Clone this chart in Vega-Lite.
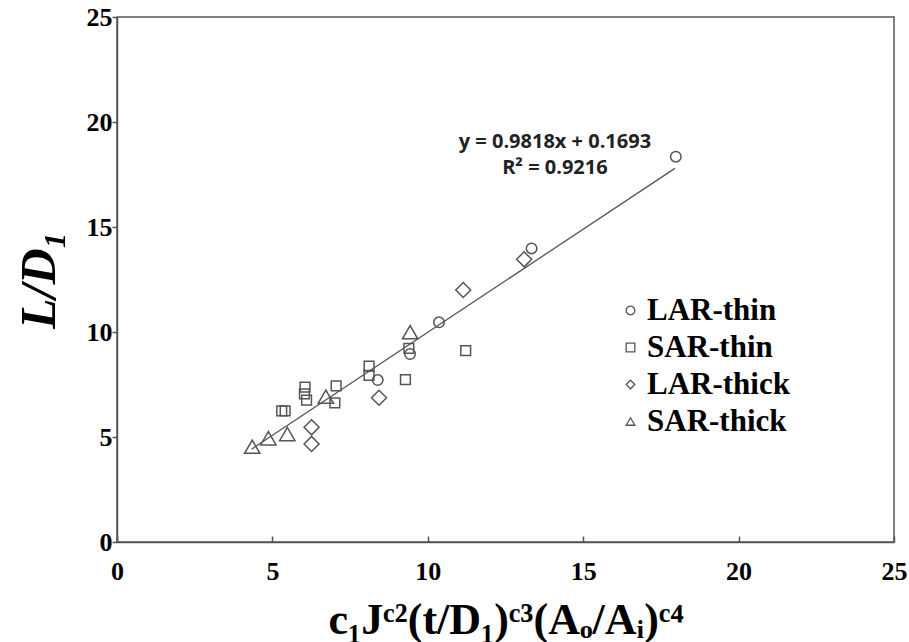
{
  "$schema": "https://vega.github.io/schema/vega-lite/v6.json",
  "width": 777,
  "height": 525,
  "autosize": "none",
  "padding": {"left": 117, "top": 17, "right": 15, "bottom": 100},
  "background": "white",
  "config": {
    "view": {"stroke": "#555555", "strokeWidth": 1.5},
    "axis": {"grid": false}
  },
  "datasets": {
    "pts": [
      {"series": "LAR-thin", "x": 8.39, "y": 7.71},
      {"series": "LAR-thin", "x": 9.43, "y": 8.95},
      {"series": "LAR-thin", "x": 10.36, "y": 10.46},
      {"series": "LAR-thin", "x": 13.34, "y": 13.98},
      {"series": "LAR-thin", "x": 17.98, "y": 18.35},
      {"series": "SAR-thin", "x": 5.3, "y": 6.24},
      {"series": "SAR-thin", "x": 5.41, "y": 6.24},
      {"series": "SAR-thin", "x": 6.05, "y": 7.37},
      {"series": "SAR-thin", "x": 6.03, "y": 7.05},
      {"series": "SAR-thin", "x": 6.1, "y": 6.76},
      {"series": "SAR-thin", "x": 7.05, "y": 7.43},
      {"series": "SAR-thin", "x": 7.01, "y": 6.63},
      {"series": "SAR-thin", "x": 8.11, "y": 8.38},
      {"series": "SAR-thin", "x": 8.11, "y": 7.94},
      {"series": "SAR-thin", "x": 9.28, "y": 7.73},
      {"series": "SAR-thin", "x": 9.39, "y": 9.22},
      {"series": "SAR-thin", "x": 11.22, "y": 9.11},
      {"series": "LAR-thick", "x": 6.26, "y": 5.46},
      {"series": "LAR-thick", "x": 6.26, "y": 4.67},
      {"series": "LAR-thick", "x": 8.43, "y": 6.87},
      {"series": "LAR-thick", "x": 11.14, "y": 12.0},
      {"series": "LAR-thick", "x": 13.1, "y": 13.46},
      {"series": "SAR-thick", "x": 4.35, "y": 4.54},
      {"series": "SAR-thick", "x": 4.87, "y": 4.94},
      {"series": "SAR-thick", "x": 5.48, "y": 5.14},
      {"series": "SAR-thick", "x": 6.72, "y": 6.92},
      {"series": "SAR-thick", "x": 9.43, "y": 9.99}
    ],
    "fit": [
      {"x": 4.33, "y": 4.42},
      {"x": 17.95, "y": 17.79}
    ],
    "note": [
      {"label": "fit"}
    ]
  },
  "resolve": {"legend": {"shape": "independent", "size": "independent"}},
  "layer": [
    {
      "data": {"name": "fit"},
      "mark": {"type": "line", "color": "#555555", "strokeWidth": 1.3},
      "encoding": {
        "x": {"field": "x", "type": "quantitative"},
        "y": {"field": "y", "type": "quantitative"}
      }
    },
    {
      "data": {"name": "pts"},
      "mark": {"type": "point", "filled": false, "color": "#555555", "strokeWidth": 1.5, "opacity": 1},
      "encoding": {
        "x": {
          "field": "x", "type": "quantitative",
          "scale": {"domain": [0, 25], "nice": false, "zero": false},
          "axis": {
            "values": [0, 5, 10, 15, 20, 25],
            "title": "c₁Jᶜ²(t/D₁)ᶜ³(Aₒ/Aᵢ)ᶜ⁴",
            "titleFont": "Liberation Serif",
            "titleFontSize": 44,
            "titleFontWeight": "bold",
            "titleColor": "#000000",
            "titlePadding": 14,
            "labelFont": "Liberation Serif",
            "labelFontSize": 26,
            "labelFontWeight": "bold",
            "labelColor": "#000000",
            "labelPadding": 22,
            "labelFlush": false,
            "tickSize": -6,
            "tickColor": "#555555",
            "tickWidth": 1.5,
            "domainColor": "#555555",
            "domainWidth": 1.5
          }
        },
        "y": {
          "field": "y", "type": "quantitative",
          "scale": {"domain": [0, 25], "nice": false, "zero": false},
          "axis": {
            "values": [0, 5, 10, 15, 20, 25],
            "title": "L/D₁",
            "titleFont": "Liberation Serif",
            "titleFontSize": 50,
            "titleFontWeight": "bold",
            "titleFontStyle": "italic",
            "titleColor": "#000000",
            "titlePadding": 22,
            "labelFont": "Liberation Serif",
            "labelFontSize": 26,
            "labelFontWeight": "bold",
            "labelColor": "#000000",
            "labelPadding": 0,
            "labelFlush": false,
            "tickSize": 5,
            "tickColor": "#555555",
            "tickWidth": 1.5,
            "domainColor": "#555555",
            "domainWidth": 1.5
          }
        },
        "shape": {
          "field": "series", "type": "nominal",
          "scale": {
            "domain": ["LAR-thin", "SAR-thin", "LAR-thick", "SAR-thick"],
            "range": ["circle", "square", "diamond", "triangle-up"]
          },
          "legend": null
        },
        "size": {
          "field": "series", "type": "ordinal",
          "scale": {
            "type": "ordinal",
            "domain": ["LAR-thin", "SAR-thin", "LAR-thick", "SAR-thick"],
            "range": [110, 95, 225, 235]
          },
          "legend": null
        }
      }
    },
    {
      "data": {"name": "pts"},
      "mark": {"type": "point", "filled": false, "color": "#555555", "strokeWidth": 1.3, "opacity": 0, "size": 10},
      "encoding": {
        "x": {"field": "x", "type": "quantitative"},
        "y": {"field": "y", "type": "quantitative"},
        "shape": {
          "field": "series", "type": "nominal",
          "legend": {
            "title": null,
            "orient": "none",
            "legendX": 498,
            "legendY": 278,
            "padding": 0,
            "labelFont": "Liberation Serif",
            "labelFontSize": 31,
            "labelFontWeight": "bold",
            "labelColor": "#000000",
            "labelOffset": 1,
            "rowPadding": 5,
            "symbolSize": 75,
            "symbolOpacity": 1,
            "symbolFillColor": "transparent",
            "symbolStrokeColor": "#555555",
            "symbolStrokeWidth": 1.3
          }
        }
      }
    },
    {
      "data": {"name": "note"},
      "mark": {
        "type": "text",
        "text": ["y = 0.9818x + 0.1693", "R² = 0.9216"],
        "font": "Open Sans",
        "fontSize": 20,
        "fontWeight": "bold",
        "color": "#222222",
        "align": "center",
        "baseline": "middle",
        "lineHeight": 26
      },
      "encoding": {
        "x": {"datum": 14.09},
        "y": {"datum": 19.07}
      }
    }
  ]
}
